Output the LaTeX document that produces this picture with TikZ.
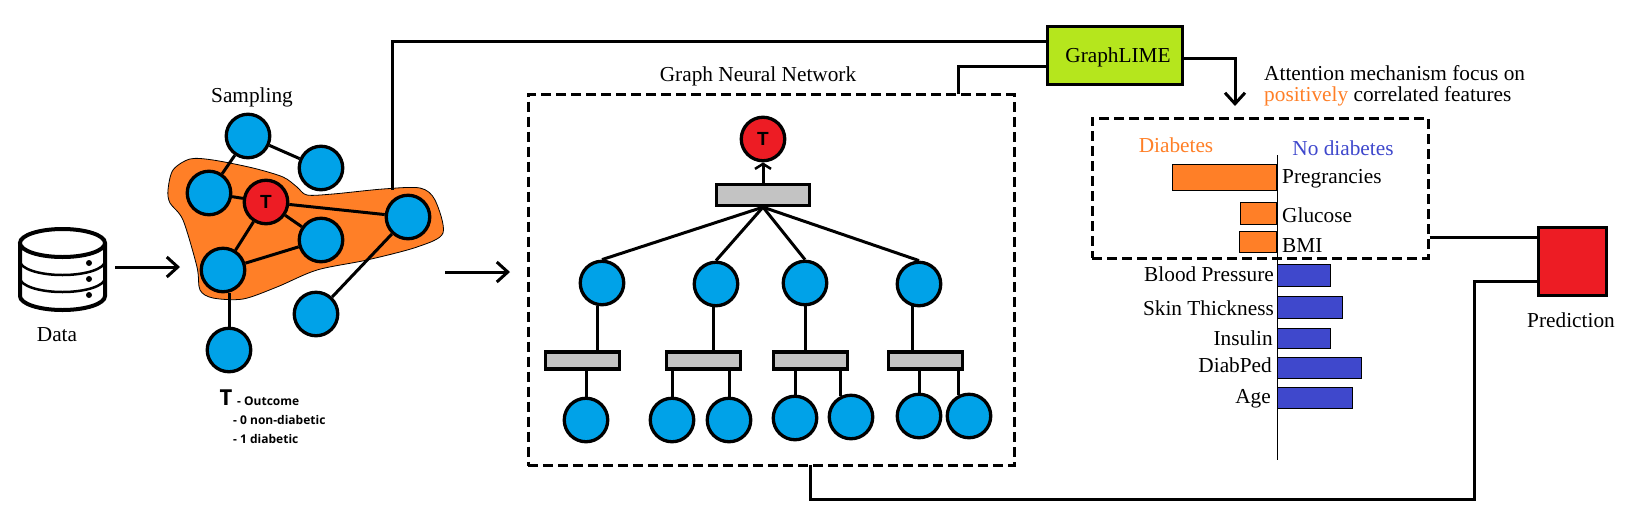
\documentclass[tikz,border=0pt]{standalone}
\usepackage{fontspec}
\setmainfont{Liberation Serif}
\newfontfamily\labelsans{Open Sans}
\newfontfamily\nodesans{Liberation Sans}
\usetikzlibrary{arrows.meta}
\definecolor{nodeblue}{HTML}{00A2E8}
\definecolor{nodered}{HTML}{ED1C24}
\definecolor{bloborange}{HTML}{FF7F27}
\definecolor{boxgray}{HTML}{C3C3C3}
\definecolor{limegreen}{HTML}{B5E61D}
\definecolor{barblue}{HTML}{3F48CC}
\begin{document}
\begin{tikzpicture}[x=1pt, y=-1pt,
    every node/.style={font=\fontsize{21.3}{23}\selectfont, inner sep=0pt},
    wire/.style={line width=3pt},
    graphnode/.style={circle, draw, line width=3.3pt, fill=nodeblue, minimum size=43.5pt},
    targetnode/.style={circle, draw, line width=3.3pt, fill=nodered, minimum size=43.5pt, font=\fontsize{19}{21}\selectfont\nodesans\bfseries},
    pool/.style={draw, line width=3.3pt, fill=boxgray},
    dashbox/.style={draw, line width=3pt, dash pattern=on 10pt off 5pt},
    orangebar/.style={draw, line width=1pt, fill=bloborange, anchor=east},
    bluebar/.style={draw, line width=1pt, fill=barblue, anchor=west},
    legend/.style={font=\fontsize{12}{14}\selectfont\labelsans\bfseries, anchor=west},
    barb/.style={-{Straight Barb[length=11pt, width=20pt, line width=3pt]}}]
    \useasboundingbox (0,0) rectangle (1643,515);

    % Data
    \draw[line width=4pt, fill=white] (20,243) -- (20,296) arc[start angle=180, end angle=360, x radius=42.5pt, y radius=14pt] -- (105,243) arc[start angle=0, end angle=360, x radius=42.5pt, y radius=14pt];
    \draw[line width=2.5pt] (20,261) arc[start angle=180, end angle=360, x radius=42.5pt, y radius=14pt];
    \draw[line width=2.5pt] (20,278) arc[start angle=180, end angle=360, x radius=42.5pt, y radius=14pt];
    \fill (89,263) circle (3pt) (89,279) circle (3pt) (89,295) circle (3pt);
    \node (data) at (57,335) {Data};

    % Sampling
    \draw[fill=bloborange, line width=0.8pt] plot[smooth cycle, tension=0.5] coordinates {(168,190) (173,170) (190,159) (213,160) (253,168) (283,177) (297,187) (307,195) (333,194) (383,189) (420,188) (435,200) (443,233) (417,247) (367,260) (317,270) (277,287) (243,299) (213,298) (200,290) (197,267) (183,220) (170,203)};
    \node (sampling) at (252,97) {Sampling};
    \node[graphnode] (s1) at (248,136) {};
    \node[graphnode] (s2) at (321,168) {};
    \node[graphnode] (s3) at (209,193) {};
    \node[targetnode] (starget) at (266,202) {T};
    \node[graphnode] (s4) at (408,217) {};
    \node[graphnode] (s5) at (321,240) {};
    \node[graphnode] (s6) at (223,270) {};
    \node[graphnode] (s7) at (316,314) {};
    \node[graphnode] (s8) at (229,350) {};
    \draw[wire] (s1) -- (s2);
    \draw[wire] (s1) -- (s3);
    \draw[wire] (s3) -- (starget);
    \draw[wire] (starget) -- (s4);
    \draw[wire] (starget) -- (s5);
    \draw[wire] (starget) -- (s6);
    \draw[wire] (s6) -- (s5);
    \draw[wire] (s8 |- s6.south) -- (s8);
    \draw[wire] (s4) -- (s7);

    % Legend
    \node[font=\fontsize{22}{24}\selectfont\labelsans\bfseries] (legendt) at (226,398) {T};
    \node[legend] (legend0) at (237,401) {- Outcome};
    \node[legend] (legend1) at (233,420) {- 0 non-diabetic};
    \node[legend] (legend2) at (233,439) {- 1 diabetic};

    % Graph Neural Network
    \node[dashbox, minimum width=486pt, minimum height=371pt] (gnn) at (771,280) {};
    \node (gnntitle) at (758,76) {Graph Neural Network};
    \node[targetnode] (gtarget) at (763,139) {T};
    \node[pool, minimum width=93pt, minimum height=21pt] (gtop) at (763,195) {};
    \node[graphnode] (g1) at (602,283) {};
    \node[graphnode] (g2) at (716,284) {};
    \node[graphnode] (g3) at (805,283) {};
    \node[graphnode] (g4) at (919,284) {};
    \node[pool, minimum width=74pt, minimum height=17pt] (p1) at (582.5,360.5) {};
    \node[pool, minimum width=74pt, minimum height=17pt] (p2) at (703.5,360.5) {};
    \node[pool, minimum width=74pt, minimum height=17pt] (p3) at (810.5,360.5) {};
    \node[pool, minimum width=74pt, minimum height=17pt] (p4) at (925.5,360.5) {};
    \node[graphnode] (l1) at (586,420) {};
    \node[graphnode] (l2) at (672,420) {};
    \node[graphnode] (l3) at (729,420) {};
    \node[graphnode] (l4) at (795,418) {};
    \node[graphnode] (l5) at (851,417) {};
    \node[graphnode] (l6) at (919,416) {};
    \node[graphnode] (l7) at (969,416) {};
    \draw[wire, -{Straight Barb[length=5pt, width=16pt, line width=2.5pt]}] (gtop.north) -- (gtarget.south);
    \draw[wire] (gtop.south) -- (g1.north);
    \draw[wire] (gtop.south) -- (g2.north);
    \draw[wire] (gtop.south) -- (g3.north);
    \draw[wire] (gtop.south) -- (g4.north);
    \draw[wire] (g1.-100) -- (g1.-100 |- p1.north);
    \draw[wire] (g2.-95) -- (g2.-95 |- p2.north);
    \draw[wire] (g3) -- (g3 |- p3.north);
    \draw[wire] (g4.-107) -- (g4.-107 |- p4.north);
    \draw[wire] (p1.south -| l1) -- (l1);
    \draw[wire] (p2.south -| l2) -- (l2);
    \draw[wire] (p2.south -| l3) -- (l3);
    \draw[wire] (p3.south -| l4) -- (l4);
    \draw[wire] (p3.south -| l5.116) -- (l5.116);
    \draw[wire] (p4.south -| l6) -- (l6);
    \draw[wire] (p4.south -| l7.116) -- (l7.116);

    % GraphLIME
    \node[draw, line width=3.3pt, fill=limegreen, minimum width=135pt, minimum height=58pt] (lime) at (1115,55.5) {};
    \node (limetext) at (1118,57) {GraphLIME};
    \coordinate (sampletop) at (392,190);
    \coordinate (limea) at (1046,41);
    \coordinate (gnntop) at (958,94);
    \coordinate (limeb) at (1046,66);
    \coordinate (limeout) at (1184,58);
    \coordinate (xaitop) at (1235,106);
    \draw[wire] (sampletop) |- (limea);
    \draw[wire] (gnntop) |- (limeb);
    \draw[wire, barb] (limeout) -| (xaitop);

    % Attention text
    \node[anchor=west] (attn1) at (1264,73) {Attention mechanism focus on};
    \node[anchor=west] (attn2) at (1264,96) {\textcolor{bloborange}{positively} correlated features};

    % Feature bars
    \node[dashbox, minimum width=336pt, minimum height=140pt] (xai) at (1260,188) {};
    \node[text=bloborange] (diabetes) at (1176,145) {Diabetes};
    \node[text=barblue] (nodiabetes) at (1343,148) {No diabetes};
    \coordinate (axistop) at (1277,155);
    \coordinate (axisbot) at (1277,460);
    \node[orangebar, minimum width=104pt, minimum height=26pt] (bpreg) at (1277,177) {};
    \node[orangebar, minimum width=36pt, minimum height=22pt] (bgluc) at (1277,213) {};
    \node[orangebar, minimum width=37pt, minimum height=21pt] (bbmi) at (1277,241.5) {};
    \node[bluebar, minimum width=53pt, minimum height=22pt] (bpres) at (1277,275) {};
    \node[bluebar, minimum width=65pt, minimum height=22pt] (bskin) at (1277,307) {};
    \node[bluebar, minimum width=53pt, minimum height=20pt] (bins) at (1277,338) {};
    \node[bluebar, minimum width=84pt, minimum height=21pt] (bdiab) at (1277,367.5) {};
    \node[bluebar, minimum width=75pt, minimum height=21pt] (bage) at (1277,397.5) {};
    \draw[line width=1pt] (axistop) -- (axisbot);
    \node[anchor=west] (lpreg) at (1282,179) {Pregrancies};
    \node[anchor=west] (lgluc) at (1282,215) {Glucose};
    \node[anchor=west] (lbmi) at (1282,246) {BMI};
    \node[anchor=east] (lpres) at (1274,274) {Blood Pressure};
    \node[anchor=east] (lskin) at (1274,308) {Skin Thickness};
    \node[anchor=east] (lins) at (1273,338) {Insulin};
    \node[anchor=east] (ldiab) at (1272,365) {DiabPed};
    \node[anchor=east] (lage) at (1271,399) {Age};

    % Prediction
    \node[draw, line width=3.3pt, fill=nodered, minimum size=68pt] (pred) at (1572.5,261.5) {};
    \node (predtext) at (1571,320) {Prediction};
    \coordinate (preda) at (1537,237);
    \coordinate (predb) at (1537,281);
    \coordinate (gnnbot) at (810,465);
    \coordinate (turn) at (1474,499);
    \draw[wire] (xai.east |- preda) -- (preda);
    \draw[wire] (gnnbot) |- (turn) |- (predb);

    % Arrows
    \coordinate (arrow1a) at (115,267);
    \coordinate (arrow1b) at (180,267);
    \coordinate (arrow2a) at (445,272);
    \coordinate (arrow2b) at (510,272);
    \draw[wire, barb] (arrow1a) -- (arrow1b);
    \draw[wire, barb] (arrow2a) -- (arrow2b);
\end{tikzpicture}
\end{document}
